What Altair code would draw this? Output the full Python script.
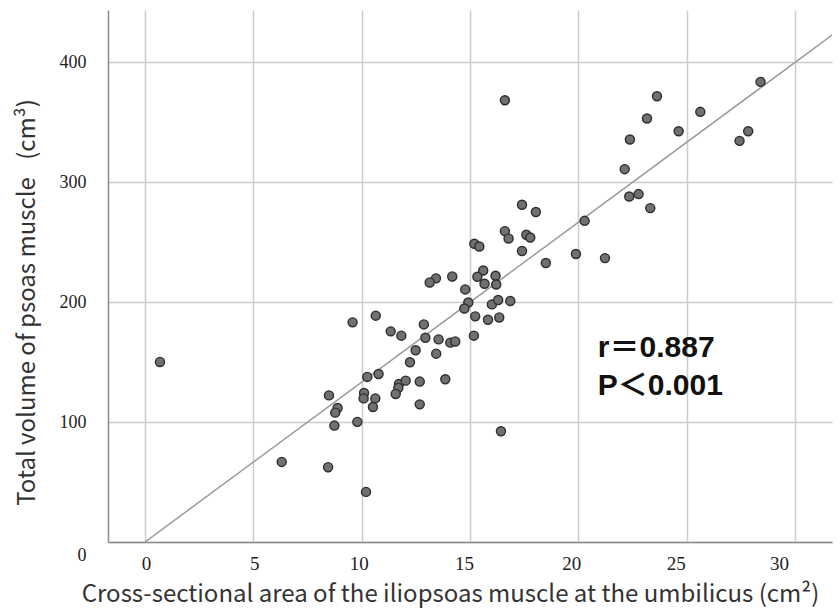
import altair as alt
import pandas as pd

# Cross-sectional area of iliopsoas at umbilicus (cm^2)
area = [0.69, 8.49, 8.89, 8.78, 8.74, 6.31, 8.45, 9.58, 10.20, 16.43, 9.80, 12.68,
        17.40, 18.04, 16.61, 16.78, 17.60, 17.78, 15.20, 15.43, 17.40, 18.50,
        14.18, 13.43, 13.14, 15.61, 15.34, 16.18, 15.67, 16.21, 14.78, 14.92,
        14.74, 16.01, 16.30, 16.86, 15.24, 15.83, 16.35, 15.18, 10.65, 11.34,
        11.83, 12.87, 12.94, 13.55, 14.09, 14.32, 12.49, 13.44, 12.23, 10.26,
        10.78, 11.72, 12.03, 12.68, 13.86, 11.69, 11.57, 10.11, 10.09, 10.63,
        10.52,
        16.61, 23.63, 23.17, 25.63, 24.63, 22.38, 28.41, 27.84, 27.44, 22.14,
        22.35, 22.78, 23.32, 20.29, 19.89, 21.23]

# Total volume of psoas muscle (cm^3)
volume = [150.2, 122.3, 111.8, 107.9, 97.1, 66.8, 62.4, 183.2, 41.8, 92.4, 100.2, 114.8,
          281.3, 275.2, 259.3, 253.2, 256.3, 254.0, 248.8, 246.5, 242.7, 232.7,
          221.5, 219.9, 216.5, 226.5, 221.2, 222.1, 215.4, 214.8, 210.7, 199.8,
          194.8, 198.2, 201.8, 201.0, 188.2, 185.4, 187.3, 172.1, 188.8, 175.7,
          172.1, 181.5, 170.4, 169.0, 166.3, 167.3, 159.9, 157.1, 149.9, 137.7,
          140.1, 131.8, 134.6, 133.8, 135.7, 128.5, 123.5, 124.3, 119.8, 119.8,
          112.6,
          368.5, 371.8, 353.2, 358.8, 342.6, 335.7, 383.8, 342.6, 334.6, 311.0,
          288.2, 290.2, 278.5, 267.9, 240.2, 236.8]

# Fitted line through the origin
fit_x = [0.0, 32.0]
fit_y = [0.0, 426.7]

# Annotation
ann_text = ["r\uff1d0.887", "P\uff1c0.001"]
ann_x = [20.9, 20.9]
ann_y = [154.6, 122.9]

x_ticks = [0, 5, 10, 15, 20, 25, 30]
y_ticks = [0, 100, 200, 300, 400]

pts = pd.DataFrame({"area": area, "volume": volume})
fit = pd.DataFrame({"area": fit_x, "volume": fit_y})
ann = pd.DataFrame({"area": ann_x, "volume": ann_y, "label": ann_text})

x_scale = alt.Scale(domain=[-1.708, 31.708], nice=False, zero=False)
y_scale = alt.Scale(domain=[0, 443.75], nice=False, zero=False)

x_axis = alt.Axis(
    values=x_ticks, grid=True, ticks=False, labelFlush=False, labelOverlap=False,
    labelFont="Liberation Serif", labelFontSize=19, labelColor="#222222", labelPadding=12,
    labelOffset={"condition": [
        {"test": "datum.value == 10", "value": -3},
        {"test": "datum.value == 15", "value": -6},
        {"test": "datum.value == 20", "value": -7},
        {"test": "datum.value == 25", "value": -11},
        {"test": "datum.value == 30", "value": -16},
    ], "value": 1},
    domainColor="#8a8a8a", domainWidth=1.5, gridColor="#cccccc", gridWidth=1.5,
    title="Cross-sectional area of the iliopsoas muscle at the umbilicus (cm\u00b2)",
    titleFont="Noto Sans CJK JP", titleFontSize=24, titleFontWeight="normal",
    titleColor="#333333", titleX=342, titleY=59, titleBaseline="alphabetic",
)

y_axis = alt.Axis(
    values=y_ticks, grid=True, ticks=False, labelFlush=False, labelOverlap=False,
    labelFont="Liberation Serif", labelFontSize=18, labelColor="#222222", labelPadding=22,
    labelOffset={"condition": {"test": "datum.value == 0", "value": 13}, "value": 0},
    domainColor="#8a8a8a", domainWidth=1.5, gridColor="#cccccc", gridWidth=1.5,
    title="Total volume of psoas muscle \u2002(cm\u00b3)",
    titleFont="Noto Sans CJK JP", titleFontSize=24, titleFontWeight="normal",
    titleColor="#333333", titleX=-81, titleY=292, titleBaseline="middle",
)

points = alt.Chart(pts).mark_circle(
    size=82, color="#707070", opacity=1, stroke="#2e2e2e", strokeWidth=1.4
).encode(
    x=alt.X("area:Q", scale=x_scale, axis=x_axis),
    y=alt.Y("volume:Q", scale=y_scale, axis=y_axis),
)

line = alt.Chart(fit).mark_line(color="#9a9a9a", strokeWidth=1.5, clip=True).encode(
    x=alt.X("area:Q", scale=x_scale),
    y=alt.Y("volume:Q", scale=y_scale),
)

text = alt.Chart(ann).mark_text(
    align="left", baseline="alphabetic", fontSize=30, fontWeight="bold",
    font="Liberation Sans, Noto Sans CJK JP", color="#111111"
).encode(
    x=alt.X("area:Q", scale=x_scale),
    y=alt.Y("volume:Q", scale=y_scale),
    text="label:N",
)

chart = alt.layer(line, points, text).properties(
    width=724, height=532,
    padding={"left": 108, "top": 10, "right": 8, "bottom": 66},
    autosize=alt.AutoSizeParams(type="none"),
    background="white",
).configure_view(stroke=None)

chart.save("out.html", embed_options={"renderer": "svg", "actions": False})
